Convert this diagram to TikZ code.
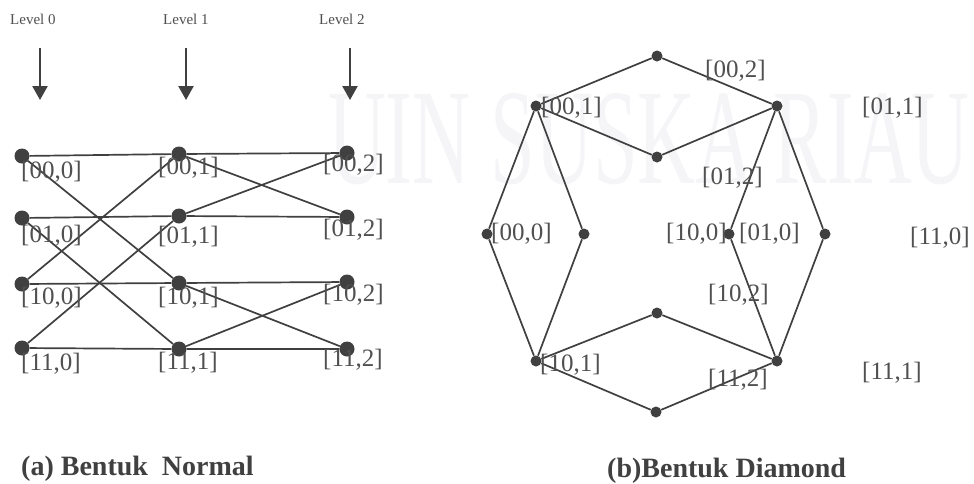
\documentclass[tikz,border=0pt]{standalone}
\usepackage{fontspec}
\setmainfont{Liberation Serif}
\usetikzlibrary{arrows.meta}
\definecolor{ink}{HTML}{404040}
\definecolor{txt}{HTML}{505050}
\definecolor{wmark}{HTML}{F5F5F8}
\begin{document}
\begin{tikzpicture}[x=1pt,y=-1pt,
  bigdot/.style={circle,fill=ink,inner sep=0pt,minimum size=15pt},
  smalldot/.style={circle,fill=ink,inner sep=0pt,minimum size=11pt},
  edge/.style={draw=ink,line width=1.7pt},
  lab/.style={anchor=west,inner sep=0pt,text=txt,font=\fontsize{25}{25}\selectfont},
  levlab/.style={anchor=west,inner sep=0pt,text=txt,font=\fontsize{15}{15}\selectfont},
  levarrow/.style={draw=ink,line width=2.4pt,-{Triangle[length=14pt,width=15pt]}},
  caption/.style={anchor=base west,inner sep=0pt,text=ink,font=\fontsize{28}{28}\selectfont\bfseries}]
\fill[white] (0,0) rectangle (974,483);
\useasboundingbox (0,0) rectangle (974,483);
% watermark
\node[text=wmark,inner sep=0pt,xscale=0.59,font=\fontsize{136}{136}\selectfont] (wm) at (649,139) {UIN SUSKA RIAU};

% ---------- (a) Normal ----------
\node[levlab] (lv0) at (10,19) {Level 0};
\node[levlab] (lv1) at (163,19) {Level 1};
\node[levlab] (lv2) at (319,19) {Level 2};
\coordinate (a0s) at (40,48);  \coordinate (a0e) at (40,100);
\coordinate (a1s) at (186,48); \coordinate (a1e) at (186,100);
\coordinate (a2s) at (350,48); \coordinate (a2e) at (350,100);
\draw[levarrow] (a0s) -- (a0e);
\draw[levarrow] (a1s) -- (a1e);
\draw[levarrow] (a2s) -- (a2e);

\node[bigdot] (n000) at (22,156) {};
\node[bigdot] (n010) at (22,218) {};
\node[bigdot] (n100) at (22,284) {};
\node[bigdot] (n110) at (22,348) {};
\node[bigdot] (n001) at (179,154) {};
\node[bigdot] (n011) at (179,216) {};
\node[bigdot] (n101) at (179,283) {};
\node[bigdot] (n111) at (179,349) {};
\node[bigdot] (n002) at (347,153) {};
\node[bigdot] (n012) at (347,217) {};
\node[bigdot] (n102) at (347,282) {};
\node[bigdot] (n112) at (347,349) {};

\draw[edge] (n000) -- (n001) -- (n002);
\draw[edge] (n010) -- (n011) -- (n012);
\draw[edge] (n100) -- (n101) -- (n102);
\draw[edge] (n110) -- (n111) -- (n112);
\draw[edge] (n000) -- (n101);
\draw[edge] (n010) -- (n111);
\draw[edge] (n100) -- (n001);
\draw[edge] (n110) -- (n011);
\draw[edge] (n001) -- (n012);
\draw[edge] (n011) -- (n002);
\draw[edge] (n101) -- (n112);
\draw[edge] (n111) -- (n102);

\node[lab] (t000) at (21,172) {[00,0]};
\node[lab] (t010) at (21,236) {[01,0]};
\node[lab] (t100) at (21,298) {[10,0]};
\node[lab] (t110) at (21,364) {[11,0]};
\node[lab] (t001) at (158,168) {[00,1]};
\node[lab] (t011) at (158,237) {[01,1]};
\node[lab] (t101) at (158,298) {[10,1]};
\node[lab] (t111) at (158,363) {[11,1]};
\node[lab] (t002) at (323,165) {[00,2]};
\node[lab] (t012) at (323,230) {[01,2]};
\node[lab] (t102) at (323,295) {[10,2]};
\node[lab] (t112) at (323,360) {[11,2]};

\node[caption] (capa) at (21,475) {(a) Bentuk\ \ Normal};

% ---------- (b) Diamond ----------
\node[smalldot] (dtop) at (657,56) {};
\node[smalldot] (d001) at (536,106) {};
\node[smalldot] (d011) at (777,106) {};
\node[smalldot] (dmu) at (657,157) {};
\node[smalldot] (d000) at (487,234) {};
\node[smalldot] (din) at (584,234) {};
\node[smalldot] (d100) at (729,234) {};
\node[smalldot] (dout) at (825,234) {};
\node[smalldot] (dml) at (657,313) {};
\node[smalldot] (d101) at (536,361) {};
\node[smalldot] (d111) at (777,361) {};
\node[smalldot] (dbot) at (656,412) {};

\draw[edge] (d001) -- (dtop) -- (d011);
\draw[edge] (d001) -- (dmu) -- (d011);
\draw[edge] (d001) -- (d000) -- (d101);
\draw[edge] (d001) -- (din) -- (d101);
\draw[edge] (d011) -- (d100) -- (d111);
\draw[edge] (d011) -- (dout) -- (d111);
\draw[edge] (d101) -- (dml) -- (d111);
\draw[edge] (d101) -- (dbot) -- (d111);

\node[lab] (r001) at (541,108) {[00,1]};
\node[lab] (r002) at (705,71) {[00,2]};
\node[lab] (r011) at (862,108) {[01,1]};
\node[lab] (r012) at (702,178) {[01,2]};
\node[lab] (r000) at (491,234) {[00,0]};
\node[lab] (r100) at (666,234) {[10,0]};
\node[lab] (r010) at (739,234) {[01,0]};
\node[lab] (r110) at (910,238) {[11,0]};
\node[lab] (r102) at (708,295) {[10,2]};
\node[lab] (r101) at (540,365) {[10,1]};
\node[lab] (r112) at (708,380) {[11,2]};
\node[lab] (r111) at (862,373) {[11,1]};

\node[caption] (capb) at (607,477) {(b)Bentuk Diamond};
\end{tikzpicture}
\end{document}
